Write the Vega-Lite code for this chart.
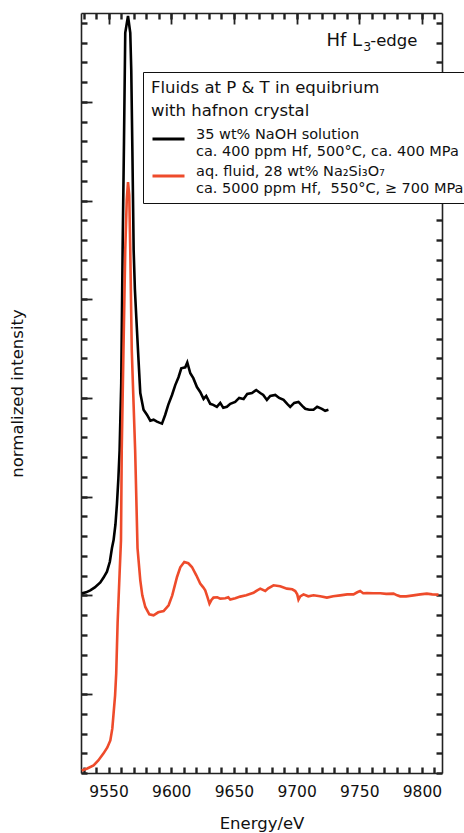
{
  "$schema": "https://vega.github.io/schema/vega-lite/v6.json",
  "width": 361,
  "height": 760,
  "autosize": {"type": "none"},
  "padding": {"left": 81, "top": 13, "right": 22, "bottom": 60},
  "background": "white",
  "config": {
    "font": "DejaVu Sans",
    "view": {"stroke": null},
    "axis": {"grid": true, "gridDash": [11, 3000], "gridWidth": 1.8, "domainColor": "#222", "domainWidth": 1.6, "labelColor": "#111", "titleColor": "#111", "titleFontWeight": "normal", "labelFont": "DejaVu Sans", "titleFont": "DejaVu Sans", "labelOverlap": false, "labelFlush": false}
  },
  "data": {"values": [
    {"series": "NaOH", "energy": 9528.8, "intensity": 1.02},
    {"series": "NaOH", "energy": 9532, "intensity": 1.03},
    {"series": "NaOH", "energy": 9535.4, "intensity": 1.05},
    {"series": "NaOH", "energy": 9539, "intensity": 1.08},
    {"series": "NaOH", "energy": 9543.4, "intensity": 1.13},
    {"series": "NaOH", "energy": 9546, "intensity": 1.18},
    {"series": "NaOH", "energy": 9548.7, "intensity": 1.24},
    {"series": "NaOH", "energy": 9551, "intensity": 1.34},
    {"series": "NaOH", "energy": 9552.7, "intensity": 1.48},
    {"series": "NaOH", "energy": 9554.0, "intensity": 1.56},
    {"series": "NaOH", "energy": 9555.5, "intensity": 1.72},
    {"series": "NaOH", "energy": 9556.7, "intensity": 1.93},
    {"series": "NaOH", "energy": 9557.8, "intensity": 2.18},
    {"series": "NaOH", "energy": 9558.8, "intensity": 2.47},
    {"series": "NaOH", "energy": 9560.1, "intensity": 3.15},
    {"series": "NaOH", "energy": 9561.2, "intensity": 4.50},
    {"series": "NaOH", "energy": 9562.3, "intensity": 5.6},
    {"series": "NaOH", "energy": 9563.3, "intensity": 6.70},
    {"series": "NaOH", "energy": 9565.5, "intensity": 6.87},
    {"series": "NaOH", "energy": 9567.3, "intensity": 6.70},
    {"series": "NaOH", "energy": 9568.1, "intensity": 6.32},
    {"series": "NaOH", "energy": 9569, "intensity": 5.5},
    {"series": "NaOH", "energy": 9570.0, "intensity": 4.50},
    {"series": "NaOH", "energy": 9571, "intensity": 4.1},
    {"series": "NaOH", "energy": 9572.1, "intensity": 3.82},
    {"series": "NaOH", "energy": 9573.9, "intensity": 3.38},
    {"series": "NaOH", "energy": 9575.3, "intensity": 3.05},
    {"series": "NaOH", "energy": 9577.9, "intensity": 2.88},
    {"series": "NaOH", "energy": 9580.6, "intensity": 2.83},
    {"series": "NaOH", "energy": 9583.3, "intensity": 2.77},
    {"series": "NaOH", "energy": 9585.9, "intensity": 2.78},
    {"series": "NaOH", "energy": 9588.6, "intensity": 2.76},
    {"series": "NaOH", "energy": 9590.5, "intensity": 2.75},
    {"series": "NaOH", "energy": 9592.6, "intensity": 2.74},
    {"series": "NaOH", "energy": 9595.2, "intensity": 2.83},
    {"series": "NaOH", "energy": 9597.6, "intensity": 2.93},
    {"series": "NaOH", "energy": 9600.6, "intensity": 3.03},
    {"series": "NaOH", "energy": 9603.2, "intensity": 3.13},
    {"series": "NaOH", "energy": 9605.8, "intensity": 3.21},
    {"series": "NaOH", "energy": 9608.0, "intensity": 3.30},
    {"series": "NaOH", "energy": 9611.2, "intensity": 3.31},
    {"series": "NaOH", "energy": 9612.8, "intensity": 3.36},
    {"series": "NaOH", "energy": 9615.2, "intensity": 3.25},
    {"series": "NaOH", "energy": 9617.6, "intensity": 3.20},
    {"series": "NaOH", "energy": 9620.5, "intensity": 3.11},
    {"series": "NaOH", "energy": 9623.1, "intensity": 3.06},
    {"series": "NaOH", "energy": 9625.8, "intensity": 2.99},
    {"series": "NaOH", "energy": 9627.9, "intensity": 3.02},
    {"series": "NaOH", "energy": 9631.1, "intensity": 2.94},
    {"series": "NaOH", "energy": 9633.5, "intensity": 2.93},
    {"series": "NaOH", "energy": 9636.4, "intensity": 2.91},
    {"series": "NaOH", "energy": 9639.1, "intensity": 2.95},
    {"series": "NaOH", "energy": 9641.5, "intensity": 2.90},
    {"series": "NaOH", "energy": 9644.4, "intensity": 2.91},
    {"series": "NaOH", "energy": 9647.1, "intensity": 2.94},
    {"series": "NaOH", "energy": 9651.0, "intensity": 2.96},
    {"series": "NaOH", "energy": 9654.2, "intensity": 3.00},
    {"series": "NaOH", "energy": 9657.7, "intensity": 2.99},
    {"series": "NaOH", "energy": 9660.6, "intensity": 3.04},
    {"series": "NaOH", "energy": 9664.4, "intensity": 3.05},
    {"series": "NaOH", "energy": 9667.8, "intensity": 3.08},
    {"series": "NaOH", "energy": 9671.0, "intensity": 3.05},
    {"series": "NaOH", "energy": 9673.4, "intensity": 3.03},
    {"series": "NaOH", "energy": 9676.3, "intensity": 2.98},
    {"series": "NaOH", "energy": 9679.0, "intensity": 3.02},
    {"series": "NaOH", "energy": 9683.0, "intensity": 3.03},
    {"series": "NaOH", "energy": 9686.1, "intensity": 3.00},
    {"series": "NaOH", "energy": 9689.6, "intensity": 2.98},
    {"series": "NaOH", "energy": 9692.5, "intensity": 2.94},
    {"series": "NaOH", "energy": 9694.9, "intensity": 2.91},
    {"series": "NaOH", "energy": 9698.1, "intensity": 2.95},
    {"series": "NaOH", "energy": 9701.5, "intensity": 2.96},
    {"series": "NaOH", "energy": 9704.5, "intensity": 2.92},
    {"series": "NaOH", "energy": 9706.9, "intensity": 2.89},
    {"series": "NaOH", "energy": 9710.1, "intensity": 2.88},
    {"series": "NaOH", "energy": 9713.5, "intensity": 2.88},
    {"series": "NaOH", "energy": 9716.4, "intensity": 2.91},
    {"series": "NaOH", "energy": 9720.2, "intensity": 2.89},
    {"series": "NaOH", "energy": 9722.8, "intensity": 2.87},
    {"series": "NaOH", "energy": 9725.4, "intensity": 2.88},
    {"series": "Na2Si3O7", "energy": 9528.6, "intensity": -0.774},
    {"series": "Na2Si3O7", "energy": 9533.0, "intensity": -0.754},
    {"series": "Na2Si3O7", "energy": 9538.0, "intensity": -0.723},
    {"series": "Na2Si3O7", "energy": 9541.8, "intensity": -0.673},
    {"series": "Na2Si3O7", "energy": 9546.0, "intensity": -0.601},
    {"series": "Na2Si3O7", "energy": 9549.0, "intensity": -0.541},
    {"series": "Na2Si3O7", "energy": 9551.4, "intensity": -0.470},
    {"series": "Na2Si3O7", "energy": 9553.0, "intensity": -0.348},
    {"series": "Na2Si3O7", "energy": 9554.0, "intensity": -0.196},
    {"series": "Na2Si3O7", "energy": 9555.2, "intensity": -0.013},
    {"series": "Na2Si3O7", "energy": 9556.1, "intensity": 0.210},
    {"series": "Na2Si3O7", "energy": 9557.2, "intensity": 0.717},
    {"series": "Na2Si3O7", "energy": 9558.8, "intensity": 1.224},
    {"series": "Na2Si3O7", "energy": 9559.9, "intensity": 1.558},
    {"series": "Na2Si3O7", "energy": 9560.5, "intensity": 2.470},
    {"series": "Na2Si3O7", "energy": 9561.9, "intensity": 3.5},
    {"series": "Na2Si3O7", "energy": 9563.3, "intensity": 4.498},
    {"series": "Na2Si3O7", "energy": 9564.5, "intensity": 5.004},
    {"series": "Na2Si3O7", "energy": 9565.5, "intensity": 5.187},
    {"series": "Na2Si3O7", "energy": 9566.5, "intensity": 5.055},
    {"series": "Na2Si3O7", "energy": 9567.3, "intensity": 4.498},
    {"series": "Na2Si3O7", "energy": 9568.5, "intensity": 3.484},
    {"series": "Na2Si3O7", "energy": 9571.2, "intensity": 2.470},
    {"series": "Na2Si3O7", "energy": 9573.1, "intensity": 1.477},
    {"series": "Na2Si3O7", "energy": 9575.3, "intensity": 1.152},
    {"series": "Na2Si3O7", "energy": 9576.9, "intensity": 1.000},
    {"series": "Na2Si3O7", "energy": 9579.3, "intensity": 0.882},
    {"series": "Na2Si3O7", "energy": 9582.5, "intensity": 0.808},
    {"series": "Na2Si3O7", "energy": 9585.9, "intensity": 0.798},
    {"series": "Na2Si3O7", "energy": 9589.6, "intensity": 0.828},
    {"series": "Na2Si3O7", "energy": 9593.9, "intensity": 0.841},
    {"series": "Na2Si3O7", "energy": 9597.9, "intensity": 0.899},
    {"series": "Na2Si3O7", "energy": 9600.8, "intensity": 1.000},
    {"series": "Na2Si3O7", "energy": 9604.6, "intensity": 1.186},
    {"series": "Na2Si3O7", "energy": 9607.2, "intensity": 1.284},
    {"series": "Na2Si3O7", "energy": 9610.4, "intensity": 1.338},
    {"series": "Na2Si3O7", "energy": 9613.6, "intensity": 1.325},
    {"series": "Na2Si3O7", "energy": 9616.5, "intensity": 1.287},
    {"series": "Na2Si3O7", "energy": 9620.0, "intensity": 1.203},
    {"series": "Na2Si3O7", "energy": 9623.1, "intensity": 1.119},
    {"series": "Na2Si3O7", "energy": 9625.5, "intensity": 1.081},
    {"series": "Na2Si3O7", "energy": 9627.1, "intensity": 1.051},
    {"series": "Na2Si3O7", "energy": 9628.7, "intensity": 0.990},
    {"series": "Na2Si3O7", "energy": 9630.5, "intensity": 0.916},
    {"series": "Na2Si3O7", "energy": 9631.9, "intensity": 0.950},
    {"series": "Na2Si3O7", "energy": 9633.7, "intensity": 0.977},
    {"series": "Na2Si3O7", "energy": 9636.7, "intensity": 0.980},
    {"series": "Na2Si3O7", "energy": 9639.1, "intensity": 0.967},
    {"series": "Na2Si3O7", "energy": 9643.1, "intensity": 0.970},
    {"series": "Na2Si3O7", "energy": 9645.5, "intensity": 0.980},
    {"series": "Na2Si3O7", "energy": 9647.1, "intensity": 0.957},
    {"series": "Na2Si3O7", "energy": 9651.1, "intensity": 0.970},
    {"series": "Na2Si3O7", "energy": 9655.0, "intensity": 0.987},
    {"series": "Na2Si3O7", "energy": 9659.8, "intensity": 1.000},
    {"series": "Na2Si3O7", "energy": 9665.6, "intensity": 1.026},
    {"series": "Na2Si3O7", "energy": 9668.6, "intensity": 1.051},
    {"series": "Na2Si3O7", "energy": 9671.0, "intensity": 1.068},
    {"series": "Na2Si3O7", "energy": 9675.0, "intensity": 1.044},
    {"series": "Na2Si3O7", "energy": 9677.4, "intensity": 1.071},
    {"series": "Na2Si3O7", "energy": 9681.6, "intensity": 1.102},
    {"series": "Na2Si3O7", "energy": 9686.9, "intensity": 1.092},
    {"series": "Na2Si3O7", "energy": 9692.3, "intensity": 1.068},
    {"series": "Na2Si3O7", "energy": 9696.5, "intensity": 1.061},
    {"series": "Na2Si3O7", "energy": 9698.9, "intensity": 1.044},
    {"series": "Na2Si3O7", "energy": 9700.5, "intensity": 1.010},
    {"series": "Na2Si3O7", "energy": 9701.5, "intensity": 0.957},
    {"series": "Na2Si3O7", "energy": 9702.9, "intensity": 0.990},
    {"series": "Na2Si3O7", "energy": 9705.5, "intensity": 1.010},
    {"series": "Na2Si3O7", "energy": 9709.3, "intensity": 0.990},
    {"series": "Na2Si3O7", "energy": 9713.5, "intensity": 1.000},
    {"series": "Na2Si3O7", "energy": 9718.8, "intensity": 0.990},
    {"series": "Na2Si3O7", "energy": 9724.2, "intensity": 0.977},
    {"series": "Na2Si3O7", "energy": 9729.2, "intensity": 0.990},
    {"series": "Na2Si3O7", "energy": 9734.8, "intensity": 1.000},
    {"series": "Na2Si3O7", "energy": 9740.4, "intensity": 1.010},
    {"series": "Na2Si3O7", "energy": 9745.4, "intensity": 1.010},
    {"series": "Na2Si3O7", "energy": 9748.4, "intensity": 1.031},
    {"series": "Na2Si3O7", "energy": 9750.7, "intensity": 1.044},
    {"series": "Na2Si3O7", "energy": 9753.1, "intensity": 1.021},
    {"series": "Na2Si3O7", "energy": 9756.1, "intensity": 1.024},
    {"series": "Na2Si3O7", "energy": 9761.1, "intensity": 1.021},
    {"series": "Na2Si3O7", "energy": 9766.7, "intensity": 1.021},
    {"series": "Na2Si3O7", "energy": 9771.5, "intensity": 1.015},
    {"series": "Na2Si3O7", "energy": 9777.3, "intensity": 1.017},
    {"series": "Na2Si3O7", "energy": 9780.2, "intensity": 1.000},
    {"series": "Na2Si3O7", "energy": 9782.6, "intensity": 0.990},
    {"series": "Na2Si3O7", "energy": 9787.4, "intensity": 0.990},
    {"series": "Na2Si3O7", "energy": 9793.2, "intensity": 1.000},
    {"series": "Na2Si3O7", "energy": 9798.6, "intensity": 1.010},
    {"series": "Na2Si3O7", "energy": 9803.9, "intensity": 1.017},
    {"series": "Na2Si3O7", "energy": 9808.2, "intensity": 1.010},
    {"series": "Na2Si3O7", "energy": 9813.2, "intensity": 1.007}
  ]},
  "layer": [
    {
      "transform": [{"filter": "datum.series == 'NaOH'"}],
      "mark": {"type": "line", "strokeWidth": 2.6, "clip": true},
      "encoding": {
        "x": {"field": "energy", "type": "quantitative", "scale": {"domain": [9528, 9816], "nice": false, "zero": false},
              "axis": {"orient": "bottom", "values": [9530, 9540, 9550, 9560, 9570, 9580, 9590, 9600, 9610, 9620, 9630, 9640, 9650, 9660, 9670, 9680, 9690, 9700, 9710, 9720, 9730, 9740, 9750, 9760, 9770, 9780, 9790, 9800, 9810],
                       "tickSize": -6, "tickColor": "#222", "tickWidth": 2.4,
                       "gridColor": {"condition": {"test": "datum.value % 50 == 0", "value": "#222"}, "value": "transparent"},
                       "labelExpr": "datum.value % 50 == 0 ? format(datum.value, 'd') : ''",
                       "labelFontSize": 15.5, "labelPadding": 17, "title": "Energy/eV", "titleFontSize": 16.5, "titlePadding": 16}},
        "y": {"field": "intensity", "type": "quantitative", "scale": {"domain": [-0.8, 6.9], "nice": false, "zero": false},
              "axis": {"orient": "left", "values": [-0.8, -0.6, -0.4, -0.2, 0, 0.2, 0.4, 0.6, 0.8, 1, 1.2, 1.4, 1.6, 1.8, 2, 2.2, 2.4, 2.6, 2.8, 3, 3.2, 3.4, 3.6, 3.8, 4, 4.2, 4.4, 4.6, 4.8, 5, 5.2, 5.4, 5.6, 5.8, 6, 6.2, 6.4, 6.6, 6.8],
                       "tickSize": -6, "tickColor": "#222", "tickWidth": 2.4,
                       "gridColor": {"condition": {"test": "abs(datum.value - round(datum.value)) < 0.01", "value": "#222"}, "value": "transparent"},
                       "labels": false, "title": "normalized intensity", "titleFontSize": 16.5, "titlePadding": 54}},
        "color": {"field": "series", "type": "nominal",
                  "scale": {"domain": ["NaOH", "Na2Si3O7"], "range": ["#000000", "#EE4B2B"]},
                  "legend": {
                    "orient": "none", "legendX": 62, "legendY": 59,
                    "title": ["Fluids at P & T in equibrium", "with hafnon crystal"],
                    "titleFontSize": 16.5, "titleFontWeight": "normal", "titleLineHeight": 23, "titleColor": "#111", "titlePadding": 2, "titleLimit": 600,
                    "strokeColor": "#111", "padding": 8, "fillColor": "white", "rowPadding": 0,
                    "symbolType": "stroke", "symbolSize": 1024, "symbolStrokeWidth": 3,
                    "labelFontSize": 14.5, "labelLineHeight": 19.5, "labelColor": "#111", "labelOffset": 10, "labelLimit": 600, "labelBaseline": "alphabetic",
                    "labelExpr": "datum.value == 'NaOH' ? ['35 wt% NaOH solution', 'ca. 400 ppm Hf, 500°C, ca. 400 MPa'] : ['aq. fluid, 28 wt% Na₂Si₃O₇', 'ca. 5000 ppm Hf,\u00a0 550°C, ≥ 700 MPa']"
                  }}
      }
    },
    {
      "transform": [{"filter": "datum.series == 'Na2Si3O7'"}],
      "mark": {"type": "line", "strokeWidth": 2.6, "clip": true},
      "encoding": {
        "x": {"field": "energy", "type": "quantitative",
              "axis": {"orient": "top", "values": [9530, 9540, 9550, 9560, 9570, 9580, 9590, 9600, 9610, 9620, 9630, 9640, 9650, 9660, 9670, 9680, 9690, 9700, 9710, 9720, 9730, 9740, 9750, 9760, 9770, 9780, 9790, 9800, 9810],
                       "tickSize": -6, "tickColor": "#222", "tickWidth": 2.4,
                       "gridColor": {"condition": {"test": "datum.value % 50 == 0", "value": "#222"}, "value": "transparent"},
                       "labels": false, "title": null}},
        "y": {"field": "intensity", "type": "quantitative",
              "axis": {"orient": "right", "values": [-0.8, -0.6, -0.4, -0.2, 0, 0.2, 0.4, 0.6, 0.8, 1, 1.2, 1.4, 1.6, 1.8, 2, 2.2, 2.4, 2.6, 2.8, 3, 3.2, 3.4, 3.6, 3.8, 4, 4.2, 4.4, 4.6, 4.8, 5, 5.2, 5.4, 5.6, 5.8, 6, 6.2, 6.4, 6.6, 6.8],
                       "tickSize": -6, "tickColor": "#222", "tickWidth": 2.4,
                       "gridColor": {"condition": {"test": "abs(datum.value - round(datum.value)) < 0.01", "value": "#222"}, "value": "transparent"},
                       "labels": false, "title": null}},
        "color": {"field": "series", "type": "nominal"}
      }
    },
    {
      "data": {"values": [{"label": "Hf L"}]},
      "mark": {"type": "text", "align": "right", "baseline": "alphabetic", "fontSize": 18, "color": "#111"},
      "encoding": {
        "text": {"field": "label"},
        "x": {"datum": 9752.3, "type": "quantitative", "axis": null},
        "y": {"datum": 6.568, "type": "quantitative", "axis": null}
      }
    },
    {
      "data": {"values": [{"label": "3"}]},
      "mark": {"type": "text", "align": "left", "baseline": "alphabetic", "fontSize": 12.5, "color": "#111"},
      "encoding": {
        "text": {"field": "label"},
        "x": {"datum": 9753.1, "type": "quantitative", "axis": null},
        "y": {"datum": 6.517, "type": "quantitative", "axis": null}
      }
    },
    {
      "data": {"values": [{"label": "-edge"}]},
      "mark": {"type": "text", "align": "left", "baseline": "alphabetic", "fontSize": 16.5, "color": "#111"},
      "encoding": {
        "text": {"field": "label"},
        "x": {"datum": 9758.7, "type": "quantitative", "axis": null},
        "y": {"datum": 6.568, "type": "quantitative", "axis": null}
      }
    }
  ],
  "resolve": {"axis": {"x": "independent", "y": "independent"}}
}
